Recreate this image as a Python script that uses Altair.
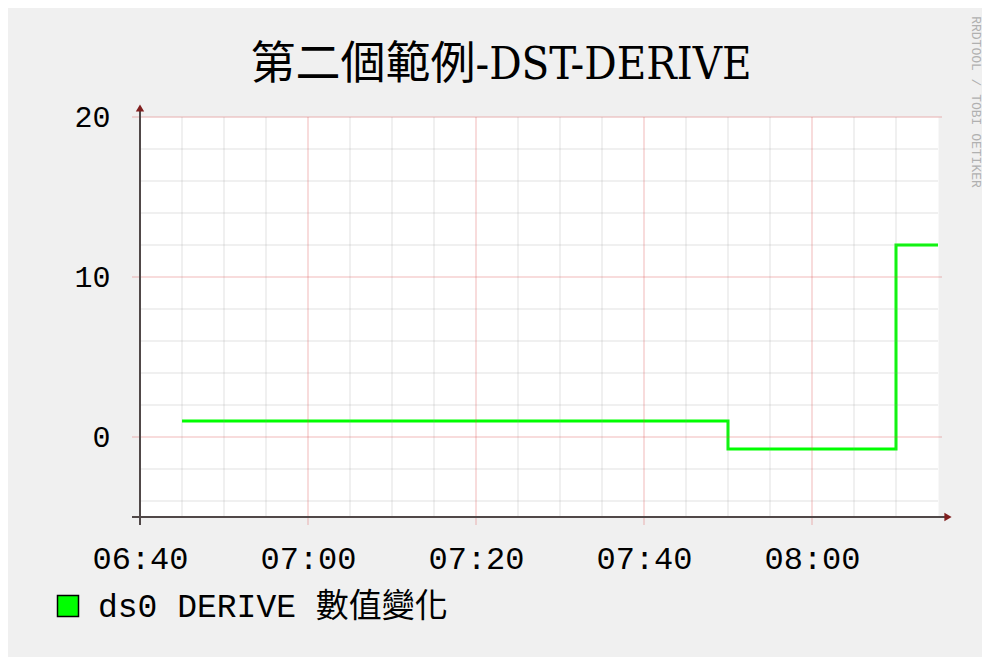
import altair as alt
import pandas as pd

# ---------------- data ----------------
title_text = "第二個範例-DST-DERIVE"
series_names = ["ds0 DERIVE 數值變化"]
credit_text = "RRDTOOL / TOBI OETIKER"

times = ["2024-01-01T06:45:00", "2024-01-01T07:50:00",
         "2024-01-01T08:10:00", "2024-01-01T08:15:00"]
values = [1.0, -0.75, 12.0, 12.0]

y_ticks = [0, 10, 20]
y_minor = [-4, -2, 2, 4, 6, 8, 12, 14, 16, 18]
x_major = ["2024-01-01T07:00:00", "2024-01-01T07:20:00",
           "2024-01-01T07:40:00", "2024-01-01T08:00:00"]
x_minor = ["2024-01-01T06:45:00", "2024-01-01T06:50:00", "2024-01-01T06:55:00",
           "2024-01-01T07:05:00", "2024-01-01T07:10:00", "2024-01-01T07:15:00",
           "2024-01-01T07:25:00", "2024-01-01T07:30:00", "2024-01-01T07:35:00",
           "2024-01-01T07:45:00", "2024-01-01T07:50:00", "2024-01-01T07:55:00",
           "2024-01-01T08:05:00", "2024-01-01T08:10:00"]
x_tick_hm = [(6, 40), (7, 0), (7, 20), (7, 40), (8, 0)]
x_domain_hm = [(6, 40), (8, 15)]
y_domain = [-5, 20]

# ---------------- style ----------------
W, H = 798, 400
MONO = "Liberation Mono, Noto Sans CJK TC"
TITLE_FONT = "DejaVu Serif Condensed, DejaVu Serif, Noto Sans CJK TC"
BG = "#f0f0f0"
GRID = "#8f8f8f"
MGRID = "#de4f4f"
ARROW = "#801f1f"
AXIS = "#504848"


def dt(h, m):
    return alt.DateTime(year=2024, month=1, date=1, hours=h, minutes=m)


xs = alt.Scale(domain=[dt(*x_domain_hm[0]), dt(*x_domain_hm[1])], nice=False)
ys = alt.Scale(domain=y_domain, nice=False, zero=False)

x_axis = alt.Axis(values=[dt(h, m) for h, m in x_tick_hm], format="%H:%M",
                  labelFont=MONO, labelFontSize=32, labelColor="black",
                  labelPadding=26, labelFlush=False, labelOverlap=False,
                  domain=False, ticks=False, grid=False, title=None)
y_axis = alt.Axis(values=y_ticks, labelFont=MONO, labelFontSize=30,
                  labelColor="black", labelPadding=30, labelFlush=False,
                  labelOverlap=False, domain=False, ticks=False, grid=False,
                  title=None)

one = pd.DataFrame({"a": [0]})
df = pd.DataFrame({"t": times, "v": values})

minor_v = alt.Chart(pd.DataFrame({"t": x_minor})).mark_rule(
    color=GRID, opacity=0.28, strokeWidth=1).encode(
    x=alt.X("t:T", scale=xs, axis=x_axis, title=None),
    y=alt.value(0), y2=alt.value(H))

minor_h = alt.Chart(pd.DataFrame({"v": y_minor})).mark_rule(
    color=GRID, opacity=0.28, strokeWidth=1).encode(
    y=alt.Y("v:Q", scale=ys, axis=y_axis, title=None),
    x=alt.value(0), x2=alt.value(W))

major_v = alt.Chart(pd.DataFrame({"t": x_major})).mark_rule(
    color=MGRID, opacity=0.4, strokeWidth=1).encode(
    x=alt.X("t:T", scale=xs, axis=x_axis, title=None),
    y=alt.value(0), y2=alt.value(H + 8))

major_h = alt.Chart(pd.DataFrame({"v": y_ticks})).mark_rule(
    color=MGRID, opacity=0.4, strokeWidth=1).encode(
    y=alt.Y("v:Q", scale=ys, axis=y_axis, title=None),
    x=alt.value(-8), x2=alt.value(W + 4))

y_axis_line = alt.Chart(one).mark_rule(color=AXIS, strokeWidth=2).encode(
    x=alt.value(0), y=alt.value(-8), y2=alt.value(H + 8))
x_axis_line = alt.Chart(one).mark_rule(color=AXIS, strokeWidth=2).encode(
    y=alt.value(H), x=alt.value(-8), x2=alt.value(W + 8))

arrow_up = alt.Chart(one).mark_point(
    shape="triangle-up", filled=True, color=ARROW, size=70, opacity=1).encode(
    x=alt.value(0), y=alt.value(-9))
arrow_right = alt.Chart(one).mark_point(
    shape="triangle-right", filled=True, color=ARROW, size=70, opacity=1).encode(
    x=alt.value(W + 10), y=alt.value(H))

line = alt.Chart(df).mark_line(
    interpolate="step-after", color="#00ff00", strokeWidth=3).encode(
    x=alt.X("t:T", scale=xs, axis=x_axis, title=None),
    y=alt.Y("v:Q", scale=ys, axis=y_axis, title=None),
)

title = alt.Chart(pd.DataFrame({"s": [title_text]})).mark_text(
    font=TITLE_FONT, fontSize=45, color="black", align="center",
    baseline="alphabetic").encode(
    text="s:N", x=alt.value(361), y=alt.value(-38))

credit = alt.Chart(pd.DataFrame({"s": [credit_text]})).mark_text(
    font=MONO, fontSize=13, color="#b0b0b0", align="center", baseline="middle",
    angle=90).encode(text="s:N", x=alt.value(836), y=alt.value(-15))

legend_box = alt.Chart(one).mark_square(
    size=441, color="#00ff00", filled=True, stroke="black", strokeWidth=1.5,
    opacity=1).encode(x=alt.value(-72), y=alt.value(489))

legend_text = alt.Chart(pd.DataFrame({"s": series_names})).mark_text(
    font=MONO, fontSize=33, color="black", align="left", baseline="middle").encode(
    text="s:N", x=alt.value(-42), y=alt.value(490))

chart = alt.layer(
    line, minor_v, minor_h, major_v, major_h, y_axis_line, x_axis_line,
    arrow_up, arrow_right, title, credit, legend_box, legend_text,
).properties(
    width=W, height=H,
    autosize=alt.AutoSizeParams(type="none"),
    padding={"left": 132, "top": 109, "right": 44, "bottom": 140},
    background=BG,
).configure_view(fill="white", strokeOpacity=0)

chart.save("out.html", embed_options={"renderer": "svg", "actions": False})
